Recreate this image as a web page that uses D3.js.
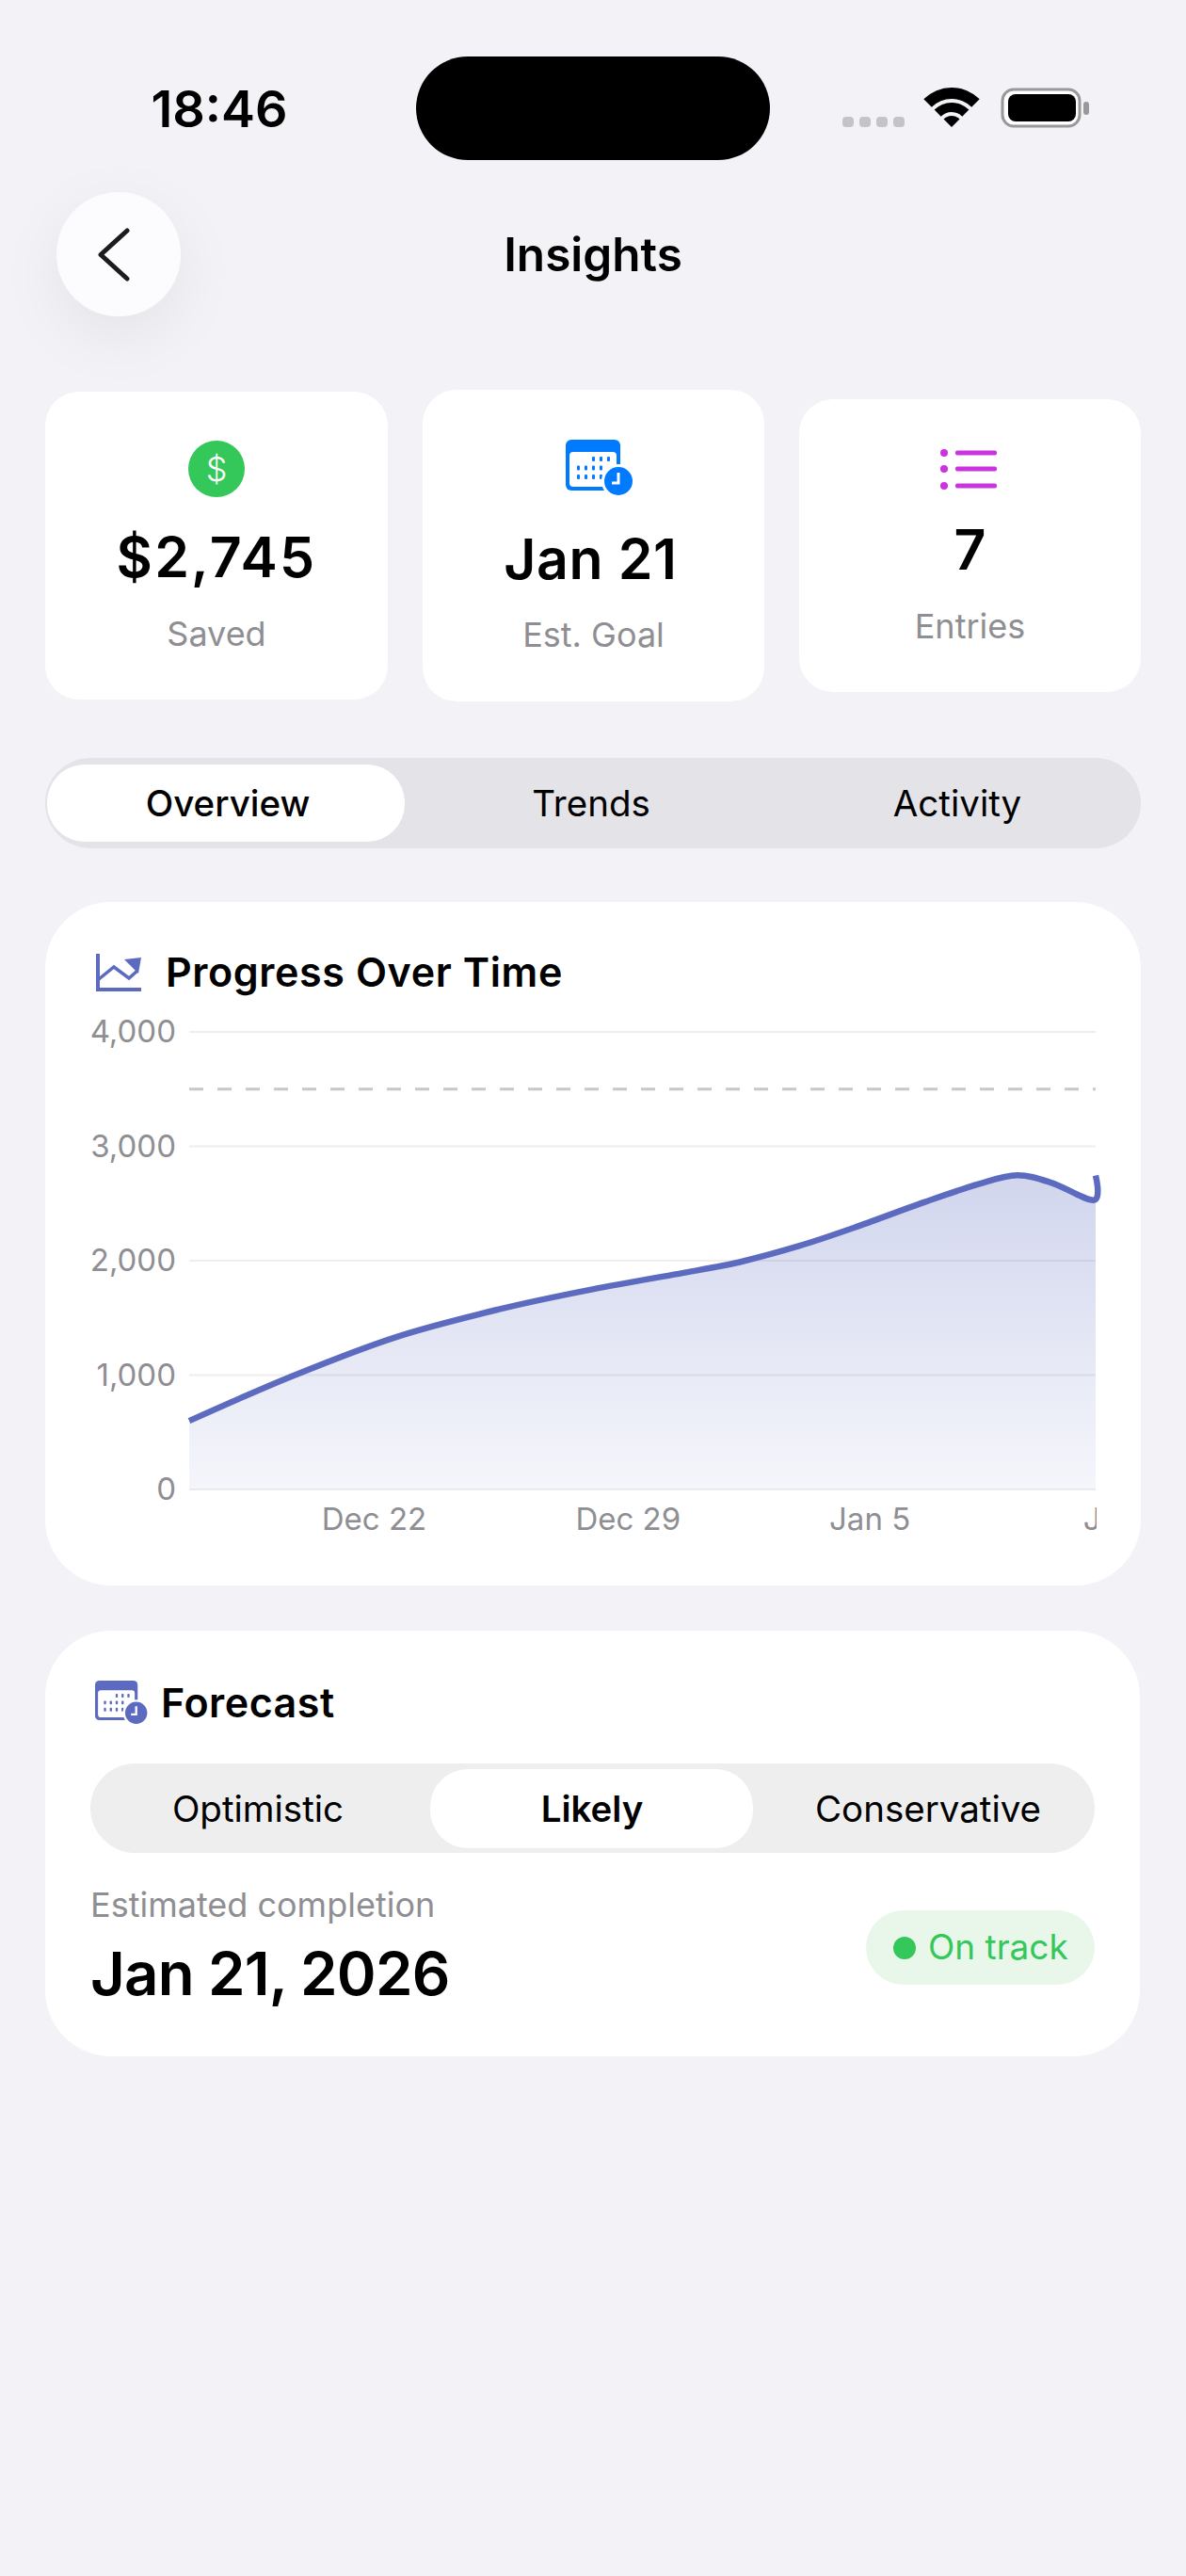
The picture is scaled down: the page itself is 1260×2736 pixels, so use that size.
<!DOCTYPE html>
<html>
<head>
<meta charset="utf-8">
<title>Insights</title>
<script src="https://cdn.jsdelivr.net/npm/d3@7"></script>
<style>
  html, body { margin: 0; padding: 0; background: #f2f2f7; }
  svg { display: block; }
  text { font-family: Inter, "Noto Sans", sans-serif; }
  .axis path, .axis line { display: none; }
  .axis text { font-family: Inter, sans-serif; fill: #8e8e93; font-size: 33px; }
</style>
</head>
<body>
<svg id="app" width="1260" height="2736"></svg>
<script>
"use strict";

// values
var entryDates = [
  "2025-12-18T08:00", "2025-12-21T04:00", "2025-12-24T01:00", "2025-12-26T21:00",
  "2025-12-29T11:00", "2026-01-01T08:00", "2026-01-02T13:00", "2026-01-04T04:00",
  "2026-01-05T16:00", "2026-01-07T15:00", "2026-01-09T03:00", "2026-01-10T04:00",
  "2026-01-11T03:00", "2026-01-12T07:00", "2026-01-12T08:00"
];
var entryValues = [600, 990, 1333, 1575, 1750, 1915, 1990, 2130, 2288, 2513, 2672, 2746, 2680, 2530, 2745];
var goalValue = 3500;
var yTicks = [0, 1000, 2000, 3000, 4000];
var xTickDates = ["2025-12-22T00:00", "2025-12-29T00:00", "2026-01-05T00:00", "2026-01-12T00:00"];

var statValues = ["$2,745", "Jan 21", "7"];
var statLabels = ["Saved", "Est. Goal", "Entries"];
var tabLabels = ["Overview", "Trends", "Activity"];
var scenarioLabels = ["Optimistic", "Likely", "Conservative"];

var INDIGO = "#5c6bc0", GREEN = "#34c759", BLUE = "#007aff", PURPLE = "#cc33e0", GREY = "#8e8e93";

var svg = d3.select("#app");
var defs = svg.append("defs");

function label(parent, str, x, y, size, weight, fill, anchor) {
  return parent.append("text")
    .attr("x", x).attr("y", y)
    .attr("font-size", size)
    .attr("font-weight", weight)
    .attr("fill", fill)
    .attr("text-anchor", anchor || "middle")
    .text(str);
}

function box(parent, x0, y0, x1, y1, r, fill) {
  return parent.append("rect")
    .attr("x", x0).attr("y", y0)
    .attr("width", x1 - x0).attr("height", y1 - y0)
    .attr("rx", r).attr("ry", r)
    .attr("fill", fill);
}

// calendar with a small clock, drawn at 58 wide and scaled
function calendarIcon(x, y, s, color) {
  var g = svg.append("g").attr("transform", "translate(" + x + "," + y + ") scale(" + s + ")");
  box(g, 0, 0, 58, 54, 6, color);
  box(g, 4, 13, 54, 50, 4, "#fff");
  var rows = [[2, 3, 4], [0, 1, 2, 3], [0, 1, 2, 3]];
  rows.forEach(function(cols, r) {
    cols.forEach(function(c) {
      box(g, 12 + c * 8, 18 + r * 9.5, 15 + c * 8, 23 + r * 9.5, 1, color);
    });
  });
  g.append("circle").attr("cx", 56).attr("cy", 44).attr("r", 18).attr("fill", "#fff");
  g.append("circle").attr("cx", 56).attr("cy", 44).attr("r", 15).attr("fill", color);
  g.append("path").attr("d", "M56 35V46H49").attr("fill", "none").attr("stroke", "#fff").attr("stroke-width", 3);
}

// status bar
label(svg, "18:46", 233, 135, 54, 600, "#000");
box(svg, 442, 60, 818, 170, 55, "#000");
d3.range(4).forEach(function(i) {
  box(svg, 895 + i * 18, 124, 907 + i * 18, 135, 4, "#c4c4c8");
});
var wifiBands = [[0, 12], [16, 26], [30, 42]];
svg.selectAll(".wifi").data(wifiBands).enter().append("path")
  .attr("class", "wifi")
  .attr("transform", "translate(1011,135)")
  .attr("fill", "#000")
  .attr("d", function(d) {
    return d3.arc()({ innerRadius: d[0], outerRadius: d[1], startAngle: -Math.PI / 4, endAngle: Math.PI / 4 });
  });
box(svg, 1065, 95, 1147, 134, 12, "#fff").attr("stroke", "#999").attr("stroke-width", 3);
box(svg, 1071, 100, 1143, 129, 8, "#000");
box(svg, 1151, 108, 1157, 122, 3, "#999");

// stat cards
var cardBoxes = [[48, 416, 412, 743], [449, 414, 812, 745], [849, 424, 1212, 735]];
var valueBase = [613, 615, 605];
var labelBase = [686, 687, 678];
var valueSpacing = [2.2, 0.6, 0];
var valueNudge = [0, -3, 0];
cardBoxes.forEach(function(c, i) {
  box(svg, c[0], c[1], c[2], c[3], 36, "#fff");
  var cx = (c[0] + c[2]) / 2;
  label(svg, statValues[i], cx + valueNudge[i], valueBase[i], 59, 600, "#000").attr("letter-spacing", valueSpacing[i]);
  label(svg, statLabels[i], cx, labelBase[i], 36, 400, GREY);
});
svg.append("circle").attr("cx", 230).attr("cy", 498).attr("r", 30).attr("fill", GREEN);
label(svg, "$", 230, 511, 36, 300, "#fff");
calendarIcon(601, 467, 1, BLUE);
[481, 498, 516].forEach(function(y) {
  svg.append("circle").attr("cx", 1003).attr("cy", y).attr("r", 4).attr("fill", PURPLE);
  box(svg, 1015, y - 2.5, 1059, y + 2.5, 2, PURPLE);
});

// header, its shadow falls over the cards
var shadow = defs.append("filter").attr("id", "soft").attr("x", "-120%").attr("y", "-120%").attr("width", "340%").attr("height", "340%");
shadow.append("feDropShadow").attr("dx", 0).attr("dy", 20).attr("stdDeviation", 30).attr("flood-color", "#000").attr("flood-opacity", 0.06);
svg.append("circle").attr("cx", 126).attr("cy", 270).attr("r", 66).attr("fill", "#fcfcff").attr("filter", "url(#soft)");
svg.append("path").attr("d", "M135 245L107 270.5L135 296")
  .attr("fill", "none").attr("stroke", "#1c1c1e").attr("stroke-width", 5).attr("stroke-linecap", "round").attr("stroke-linejoin", "round");
label(svg, "Insights", 630, 288, 49.5, 600, "#000");

// tabs
box(svg, 48, 805, 1212, 901, 48, "#e3e3e8");
box(svg, 50, 812, 430, 894, 40, "#fff");
var tabCenters = [242, 628, 1017];
tabLabels.forEach(function(t, i) {
  label(svg, t, tabCenters[i], 867, 38.5, i == 0 ? 500 : 400, "#000");
});

// chart card
box(svg, 48, 958, 1212, 1684, 70, "#fff");
var trend = svg.append("g").attr("fill", "none").attr("stroke", INDIGO);
trend.append("path").attr("d", "M104 1013V1051H150").attr("stroke-width", 4);
trend.append("path").attr("d", "M105 1040L121 1027L137 1039L146 1031").attr("stroke-width", 3.5);
trend.append("path").attr("d", "M132 1019L150 1017L147 1034Z").attr("fill", INDIGO).attr("stroke", "none");
label(svg, "Progress Over Time", 176, 1048, 43, 600, "#000", "start").attr("letter-spacing", 0.6);

var parseDate = d3.timeParse("%Y-%m-%dT%H:%M");
var entries = entryDates.map(function(d, i) { return { date: parseDate(d), value: entryValues[i] }; });

var margin = { left: 201, right: 1164, top: 1096, bottom: 1582 };
var x = d3.scaleTime().domain([parseDate("2025-12-18T08:00"), parseDate("2026-01-12T08:00")]).range([margin.left, margin.right]);
var y = d3.scaleLinear().domain([0, 4000]).range([margin.bottom, margin.top]);

var grad = defs.append("linearGradient").attr("id", "fade")
  .attr("gradientUnits", "userSpaceOnUse")
  .attr("x1", 0).attr("x2", 0)
  .attr("y1", y(d3.max(entryValues))).attr("y2", y(0));
grad.append("stop").attr("offset", 0).attr("stop-color", INDIGO).attr("stop-opacity", 0.28);
grad.append("stop").attr("offset", 1).attr("stop-color", INDIGO).attr("stop-opacity", 0.06);

defs.append("clipPath").attr("id", "plot-clip").append("rect")
  .attr("x", margin.left).attr("y", margin.top).attr("width", margin.right - margin.left).attr("height", margin.bottom - margin.top);
defs.append("clipPath").attr("id", "tick-clip").append("rect")
  .attr("x", margin.left).attr("y", margin.bottom).attr("width", margin.right + 1 - margin.left).attr("height", 60);

svg.append("g").selectAll("line").data(yTicks).enter().append("line")
  .attr("x1", margin.left).attr("x2", margin.right)
  .attr("y1", function(d) { return y(d); }).attr("y2", function(d) { return y(d); })
  .attr("stroke", "#eeeeef").attr("stroke-width", 2);

svg.append("line")
  .attr("x1", margin.left).attr("x2", margin.right)
  .attr("y1", y(goalValue)).attr("y2", y(goalValue))
  .attr("stroke", "#c7c7cc").attr("stroke-width", 3).attr("stroke-dasharray", "15 15");

var curve = d3.curveCardinal.tension(0);
var area = d3.area().x(function(d) { return x(d.date); }).y0(y(0)).y1(function(d) { return y(d.value); }).curve(curve);
var line = d3.line().x(function(d) { return x(d.date); }).y(function(d) { return y(d.value); }).curve(curve);

svg.append("path").datum(entries).attr("d", area).attr("fill", "url(#fade)").attr("clip-path", "url(#plot-clip)");
svg.append("path").datum(entries).attr("d", line).attr("fill", "none").attr("stroke", INDIGO).attr("stroke-width", 6.5);

svg.append("g").attr("class", "axis")
  .attr("transform", "translate(187,0)")
  .call(d3.axisLeft(y).tickValues(yTicks).tickSize(0).tickPadding(0).tickFormat(d3.format(",")));

var xAxisG = svg.append("g").attr("class", "axis")
  .attr("transform", "translate(-1," + margin.bottom + ")")
  .call(d3.axisBottom(x).tickValues(xTickDates.map(parseDate)).tickSize(0).tickPadding(0).tickFormat(d3.timeFormat("%b %-d")));
xAxisG.selectAll("text").attr("text-anchor", "start").attr("dy", 0).attr("y", 43);
xAxisG.selectAll("path, line").remove();
var xClip = svg.append("g").attr("clip-path", "url(#tick-clip)");
xClip.node().appendChild(xAxisG.node());

// forecast card
box(svg, 48, 1732, 1211, 2184, 70, "#fff");
calendarIcon(101, 1785, 0.78, INDIGO);
label(svg, "Forecast", 171, 1824, 43, 600, "#000", "start").attr("letter-spacing", 0.5);
box(svg, 96, 1873, 1163, 1968, 48, "#eeeeee");
box(svg, 457, 1879, 800, 1963, 40, "#fff");
var scenarioCenters = [274, 629, 986];
scenarioLabels.forEach(function(t, i) {
  label(svg, t, scenarioCenters[i], 1935, 38.5, i == 1 ? 600 : 400, "#000");
});
label(svg, "Estimated completion", 96, 2036, 36, 400, GREY, "start");
label(svg, "Jan 21, 2026", 96, 2119, 63.5, 600, "#000", "start").attr("letter-spacing", -0.8);
box(svg, 920, 2029, 1163, 2108, 40, "#e8f7ea");
svg.append("circle").attr("cx", 961).attr("cy", 2069).attr("r", 12).attr("fill", GREEN);
label(svg, "On track", 986, 2081, 37, 400, GREEN, "start");
</script>
</body>
</html>
